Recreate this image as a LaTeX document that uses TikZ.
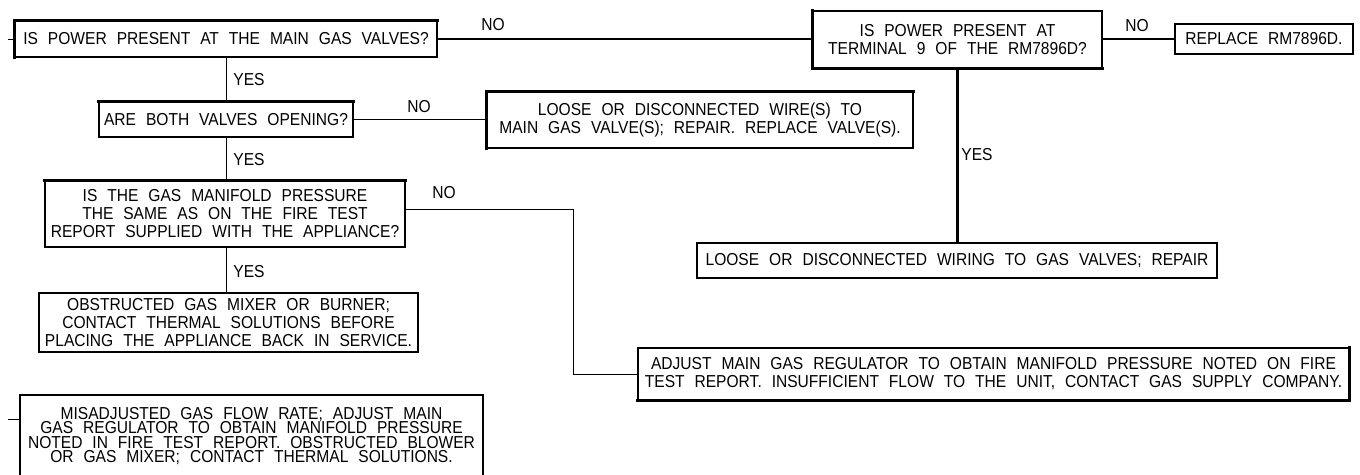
\documentclass[tikz,border=0pt]{standalone}
\usepackage{fontspec}
\setmainfont{Liberation Sans}[WordSpace=2.3, FakeStretch=0.9]
\newcommand{\cadtext}{\fontsize{17.3}{18}\selectfont}
\newcommand{\cadtight}{\fontsize{17.3}{14.6}\selectfont}
\begin{document}
\begin{tikzpicture}[x=1pt,y=-1pt,
  box/.style={draw, line width=1.1pt, inner sep=0pt, align=center, font=\cadtext},
  lbl/.style={inner sep=0pt, font=\cadtext},
  wire/.style={line width=1pt},
  mainwire/.style={line width=2.2pt},
  heavy/.style={line width=2.4pt, line cap=rect}]
\useasboundingbox (0,0) rectangle (1360,474);
\clip (0,0) rectangle (1360,474);
\fill[white] (0,0) rectangle (1360,474);

% decision and action boxes
\node[box, minimum width=422pt, minimum height=36pt] (pwr) at (226,39)
  {IS POWER PRESENT AT THE MAIN GAS VALVES?};
\node[box, minimum width=254pt, minimum height=35pt] (both) at (226,119.5)
  {ARE BOTH VALVES OPENING?};
\node[box, minimum width=426pt, minimum height=56pt] (wire) at (700,120)
  {LOOSE OR DISCONNECTED WIRE(S) TO\\MAIN GAS VALVE(S); REPAIR. REPLACE VALVE(S).};
\node[box, minimum width=360pt, minimum height=66pt] (mani) at (225,214)
  {IS THE GAS MANIFOLD PRESSURE\\THE SAME AS ON THE FIRE TEST\\REPORT SUPPLIED WITH THE APPLIANCE?};
\node[box, minimum width=379pt, minimum height=59pt] (obst) at (228.5,322.5)
  {OBSTRUCTED GAS MIXER OR BURNER;\\CONTACT THERMAL SOLUTIONS BEFORE\\PLACING THE APPLIANCE BACK IN SERVICE.};
\node[box, font=\cadtight, minimum width=463pt, minimum height=82pt] (misadj) at (251.5,436)
  {MISADJUSTED GAS FLOW RATE; ADJUST MAIN\\GAS REGULATOR TO OBTAIN MANIFOLD PRESSURE\\NOTED IN FIRE TEST REPORT. OBSTRUCTED BLOWER\\OR GAS MIXER; CONTACT THERMAL SOLUTIONS.};
\node[box, minimum width=289pt, minimum height=57pt] (term) at (957.5,39.5)
  {IS POWER PRESENT AT\\TERMINAL 9 OF THE RM7896D?};
\node[box, minimum width=178pt, minimum height=30pt] (repl) at (1264,39)
  {REPLACE RM7896D.};
\node[box, minimum width=520pt, minimum height=35pt] (wiring) at (957,260.5)
  {LOOSE OR DISCONNECTED WIRING TO GAS VALVES; REPAIR};
\node[box, minimum width=711pt, minimum height=52pt] (adj) at (993.5,374)
  {ADJUST MAIN GAS REGULATOR TO OBTAIN MANIFOLD PRESSURE NOTED ON FIRE\\TEST REPORT. INSUFFICIENT FLOW TO THE UNIT, CONTACT GAS SUPPLY COMPANY.};

% heavier edges of the boxes
\draw[heavy] (pwr.south west) -- (pwr.north west) -- (pwr.north east);
\draw[heavy] (both.north west) -- (both.north east);
\draw[heavy] (wire.south west) -- (wire.north west) -- (wire.north east);
\draw[heavy] (mani.north west) -- (mani.north east);
\draw[heavy] (term.north west) -- (term.south west) -- (term.south east);
\draw[heavy] (adj.south west) -- (adj.south east) -- (adj.north east);

% branch labels
\node[lbl] (no1) at (493,25) {NO};
\node[lbl] (yes1) at (249,80) {YES};
\node[lbl] (no2) at (419,107) {NO};
\node[lbl] (yes2) at (249,160) {YES};
\node[lbl] (no3) at (444,193) {NO};
\node[lbl] (yes3) at (249,272) {YES};
\node[lbl] (no4) at (1137,26) {NO};
\node[lbl] (yes4) at (977,155) {YES};

% connectors
\coordinate (inA) at (8,39);
\coordinate (inF) at (8,419);
\coordinate (turn) at (573,209);
\draw[wire] (inA) -- (pwr.west);
\draw[wire] (inF) -- (inF -| misadj.west);
\draw[mainwire] (pwr.east) -- (pwr.east -| term.west);
\draw[mainwire] (term.east |- repl.west) -- (repl.west);
\draw[mainwire] (term.south) -- (term.south |- wiring.north);
\draw[wire] (pwr.south) -- (pwr.south |- both.north);
\draw[wire] (both.east) -- (both.east -| wire.west);
\draw[wire] (both.south) -- (both.south |- mani.north);
\draw[wire] (both.south |- mani.south) -- (both.south |- obst.north);
\draw[wire] (turn -| mani.east) -- (turn) |- (adj.west);
\end{tikzpicture}
\end{document}
